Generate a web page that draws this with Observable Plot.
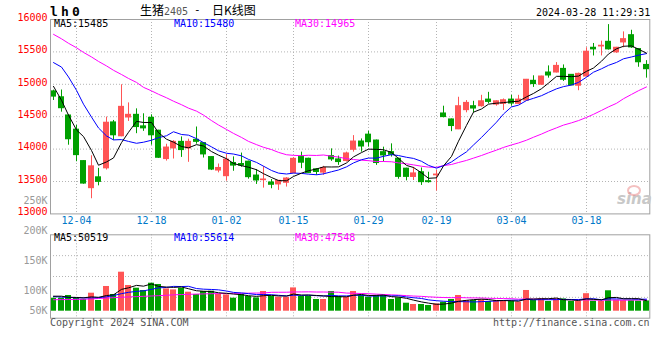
<!DOCTYPE html>
<html><head><meta charset="utf-8">
<script src="https://cdn.jsdelivr.net/npm/d3@7"></script>
<script src="https://cdn.jsdelivr.net/npm/@observablehq/plot@0.6"></script>
<style>
body{margin:0;background:#fff}
#wrap{position:relative;width:660px;height:360px;background:#fff;overflow:hidden;font-family:"DejaVu Sans Mono",monospace}
#wrap svg{position:absolute;left:0;top:0}
.t{position:absolute;white-space:pre;font-size:10px;line-height:10px;font-family:"DejaVu Sans Mono",monospace}
</style></head>
<body><div id="wrap"></div>
<script>
// ---------------- data ----------------
const dates = ["11-29","11-30","12-01","12-04","12-05","12-06","12-07","12-08","12-11","12-12","12-13","12-14","12-15","12-18","12-19","12-20","12-21","12-22","12-25","12-26","12-27","12-28","12-29",
"01-02","01-03","01-04","01-05","01-08","01-09","01-10","01-11","01-12","01-15","01-16","01-17","01-18","01-19","01-22","01-23","01-24","01-25","01-26","01-29","01-30","01-31",
"02-01","02-02","02-05","02-06","02-07","02-08","02-19","02-20","02-21","02-22","02-23","02-26","02-27","02-28","02-29",
"03-01","03-04","03-05","03-06","03-07","03-08","03-11","03-12","03-13","03-14","03-15","03-18","03-19","03-20","03-21","03-22","03-25","03-26","03-27","03-28"];
const open = [14891,14800,14519,14300,13815,13397,13565,13703,14412,14198,14488,14529,14351,14483,14284,13846,14010,14112,14010,14143,14092,13877,13669,13582,13786,13770,13806,13592,13521,13485,13455,13480,13630,13877,13851,13688,13637,13892,13841,13816,13989,14117,14223,14132,13953,13953,13851,13698,13570,13643,13505,13595,14550,14458,14305,14601,14662,14662,14764,14687,14698,14764,14698,14750,15054,14993,15182,15182,15238,15146,14978,15120,15564,15584,15656,15493,15646,15758,15544,15299];
const high = [14910,14912,14525,14366,13820,13897,13703,14494,14442,14993,14713,14621,14545,14529,14290,14075,14130,14188,14153,14341,14100,13880,13770,13918,13880,13939,13815,13684,13730,13531,13516,13560,13870,13953,13860,13698,13734,14004,13892,13953,14208,14157,14274,14140,14030,14081,13860,13705,13719,13709,13643,13670,14662,14465,14800,14749,14738,14830,14876,14745,14774,14830,14830,15075,15131,15125,15284,15335,15299,15150,15172,15564,15630,15666,15921,15570,15809,15834,15550,15365];
const low = [14750,14570,14060,13805,13458,13234,13433,13677,14136,14190,14427,14238,14274,14060,13856,13815,13847,13872,13796,14076,13862,13669,13633,13505,13658,13720,13536,13455,13398,13388,13363,13414,13620,13698,13622,13597,13597,13811,13749,13800,13953,13953,14030,13749,13800,13877,13535,13510,13515,13439,13474,13352,14483,14269,14300,14560,14560,14647,14698,14662,14596,14662,14690,14745,14952,14983,15095,15175,15044,14983,14901,15115,15437,15437,15528,15477,15564,15554,15263,15095];
const close = [14810,14631,14152,13907,13468,13734,13494,14407,14213,14652,14529,14340,14320,14213,13866,14024,14112,13985,14112,14112,13918,13684,13709,13837,13745,13745,13567,13516,13531,13449,13511,13546,13850,13790,13632,13647,13709,13841,13800,13933,14117,14040,14106,13785,13902,13912,13571,13571,13625,13490,13490,13607,14494,14356,14662,14713,14626,14738,14728,14738,14754,14703,14764,15070,15003,15120,15136,15284,15070,14983,15161,15503,15539,15595,15539,15564,15697,15569,15340,15233];
const volume = [62400,62400,75400,63800,56200,86400,51400,118600,80200,187200,123400,110400,99400,134400,128200,107000,102200,110400,91200,80200,94600,96000,80200,78200,62400,80200,70600,63800,94600,70600,67200,67200,111800,70600,72000,56200,56200,94600,70600,67200,94600,75400,67200,75400,75400,56200,63800,38400,32200,32200,27400,35000,43200,56200,75400,51400,51400,54200,46600,51400,51400,46600,43200,99400,51400,59000,46600,59000,59000,46600,46600,84000,48000,48000,98000,52300,51800,50600,48700,49200];
// moving-average values before enough history exists
const ma5Head = [14968,14754,14524,14295];
const ma10Head = [15335,15266,15113,14907,14693,14494,14326,14203,14142];
const ma30Head = [15771,15702,15633,15564,15492,15422,15353,15284,15216,15151,15090,15029,14953,14899,14846,14792,14739,14685,14632,14586,14525,14440,14372,14303,14242,14180,14119,14069,14028];
const volMa5Head = [72000,72000,67000,66000];
const volMa10Head = [70000,68000,66000,64500,64000,64000,65000,69000,75000];
const volMa30Head = [55000,55500,56000,56500,57500,59000,61000,63000,65000,67000,68500,70000,71500,73000,74500,76500,78500,80000,81000,82000,83000,84000,84500,85000,85500,86000,86500,87000,87500];
const maNames = ["MA5","MA10","MA30"];
const priceMaLast = [15485,15480,14965];
const volMaLast = [50519,55614,47548];
const tickLabels = ["12-04","12-18","01-02","01-15","01-29","02-19","03-04","03-18"];
const priceTicks = [13000,13500,14000,14500,15000,15500,16000];
const volLabelTicks = [50000,100000,150000,200000,250000];

// ---------------- build ----------------
const RED = "#ff5555", GREEN = "#00a000", GRID = "#b4b4b4", BORDER = "#a0a0a0";
const MA_COLORS = ["#000000","#0000ff","#ff00ff"];
const ma = (arr, n, head) => arr.map((_, i) => i < n - 1 ? head[i] : d3.mean(arr.slice(i - n + 1, i + 1)));
const ma5 = ma(close, 5, ma5Head), ma10 = ma(close, 10, ma10Head), ma30 = ma(close, 30, ma30Head);
const vma5 = ma(volume, 5, volMa5Head), vma10 = ma(volume, 10, volMa10Head), vma30 = ma(volume, 30, volMa30Head);
const rows = dates.map((d, i) => ({i, date: d, open: open[i], high: high[i], low: low[i], close: close[i], vol: volume[i],
  up: close[i] >= open[i], ma5: ma5[i], ma10: ma10[i], ma30: ma30[i], vma5: vma5[i], vma10: vma10[i], vma30: vma30[i]}));
const N = dates.length;
const tickIdx = tickLabels.map(l => dates.indexOf(l));
const col = d => d.up ? RED : GREEN;
const X = {type: "linear", domain: [-0.4, N - 0.5], round: true, axis: null, label: null};
const baseStyle = {fontFamily: '"DejaVu Sans Mono", monospace', fontSize: "10px", background: "transparent", overflow: "visible"};
const wrap = document.getElementById("wrap");

const main = Plot.plot({
  width: 660, height: 232, marginTop: 19, marginBottom: 18.6, marginLeft: 50, marginRight: 10.7,
  style: baseStyle,
  x: X,
  y: {domain: [13000, 16000], axis: null, label: null},
  marks: [
    Plot.ruleY(priceTicks.slice(1, -1), {stroke: GRID, strokeDasharray: "1,2"}),
    Plot.ruleX(tickIdx, {stroke: GRID, strokeDasharray: "1,2"}),
    Plot.ruleX(rows, {x: "i", y1: "low", y2: "high", stroke: col}),
    Plot.rect(rows, {x1: d => d.i - 0.4, x2: d => d.i + 0.4, y1: "open", y2: "close", fill: col, insetTop: -0.5, insetBottom: -0.5}),
    Plot.line(rows, {x: "i", y: "ma30", stroke: MA_COLORS[2], strokeWidth: 1}),
    Plot.line(rows, {x: "i", y: "ma10", stroke: MA_COLORS[1], strokeWidth: 1}),
    Plot.line(rows, {x: "i", y: "ma5", stroke: MA_COLORS[0], strokeWidth: 1}),
    Plot.frame({stroke: BORDER}),
    Plot.axisY(priceTicks, {tickSize: 0, tickPadding: 3, tickFormat: d => String(d), color: "#ff0000", dy: -2, label: null}),
    Plot.axisX(tickIdx, {tickSize: 0, tickPadding: 3, tickFormat: i => dates[i], color: "#0078c8", label: null})
  ]
});
wrap.appendChild(main);

const volDomain = [-33600, 366700];
const volGrid = [1, 2, 3].map(k => volDomain[0] + k * (volDomain[1] - volDomain[0]) / 4);
const vol = Plot.plot({
  width: 660, height: 360, marginTop: 234.3, marginBottom: 42.3, marginLeft: 50, marginRight: 10.7,
  style: baseStyle,
  x: X,
  y: {domain: volDomain, axis: null, label: null},
  marks: [
    Plot.ruleY(volGrid, {stroke: GRID, strokeDasharray: "1,2"}),
    Plot.ruleX(tickIdx, {stroke: GRID, strokeDasharray: "1,2"}),
    Plot.rect(rows, {x1: d => d.i - 0.4, x2: d => d.i + 0.4, y1: 0, y2: "vol", fill: col}),
    Plot.line(rows, {x: "i", y: "vma30", stroke: MA_COLORS[2], strokeWidth: 1}),
    Plot.line(rows, {x: "i", y: "vma10", stroke: MA_COLORS[1], strokeWidth: 1}),
    Plot.line(rows, {x: "i", y: "vma5", stroke: MA_COLORS[0], strokeWidth: 1}),
    Plot.frame({stroke: BORDER})
  ]
});
wrap.appendChild(vol);

// volume axis labels: Sina spaces them evenly from the top and clamps the lowest one
const volAxis = Plot.plot({
  width: 660, height: 360, marginLeft: 50, marginRight: 10.7,
  style: baseStyle,
  y: {type: "linear", domain: [66700, 250000], range: [310.3, 200], clamp: true, axis: null, label: null},
  marks: [Plot.axisY(volLabelTicks, {tickSize: 0, tickPadding: 3, tickFormat: d => d / 1000 + "K", color: "#999999", label: null})]
});
wrap.appendChild(volAxis);

// ---------------- texts ----------------
function label(txt, left, top, css) {
  const d = document.createElement("div");
  d.className = "t"; d.textContent = txt;
  Object.assign(d.style, {left: left + "px", top: top + "px"}, css || {});
  wrap.appendChild(d); return d;
}
label("lh0", 50, 5, {fontSize: "13px", lineHeight: "13px", fontWeight: "bold", letterSpacing: "3.2px"});
const title = label("", 140, 4, {fontSize: "12px", lineHeight: "12px"});
title.innerHTML = '<span style="font-family:\'Noto Sans CJK SC\'">生猪</span><span style="color:#555;font-size:10px">2405</span>';
label("-", 194, 5, {fontSize: "11px"});
label("日K线图", 212, 4, {fontSize: "12px", lineHeight: "12px", fontFamily: "'Noto Sans CJK SC'"});
label("2024-03-28 11:29:31", 536, 7.5, {color: "#000"});
const legendX = [54, 174, 295];
maNames.forEach((n, k) => {
  label(n + ":" + priceMaLast[k], legendX[k], 18.5, {color: MA_COLORS[k]});
  label(n + ":" + volMaLast[k], legendX[k], 233.2, {color: MA_COLORS[k]});
});
label("Copyright 2024 SINA.COM", 50, 317.5, {color: "#555"});
label("http://finance.sina.com.cn", 493, 317.5, {color: "#555"});
// sina watermark
label("sina", 617, 192, {fontSize: "15px", lineHeight: "15px", fontStyle: "italic", fontWeight: "bold", color: "#c8c8c8", fontFamily: "'DejaVu Sans', sans-serif"});
const eye = document.createElement("div");
Object.assign(eye.style, {position: "absolute", left: "627px", top: "185px", width: "10px", height: "7px", border: "2px solid rgba(235,140,140,0.55)", borderRadius: "50%"});
wrap.appendChild(eye);
</script>
</body></html>
